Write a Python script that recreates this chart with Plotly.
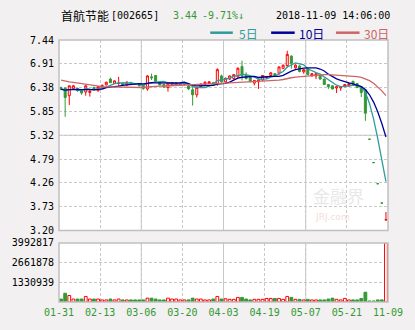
import plotly.graph_objects as go

# ---------------- data ----------------
dates = ["01-31", "02-01", "02-02", "02-05", "02-06", "02-07", "02-08", "02-09", "02-12", "02-13",
         "02-14", "02-22", "02-23", "02-26", "02-27", "02-28", "03-01", "03-02", "03-05", "03-06",
         "03-07", "03-08", "03-09", "03-12", "03-13", "03-14", "03-15", "03-16", "03-19", "03-20",
         "03-21", "03-22", "03-23", "03-26", "03-27", "03-28", "03-29", "03-30", "04-02", "04-03",
         "04-04", "04-09", "04-10", "04-11", "04-12", "04-13", "04-16", "04-17", "04-18", "04-19",
         "04-20", "04-23", "04-24", "04-25", "04-26", "04-27", "05-02", "05-03", "05-04", "05-07",
         "05-08", "05-09", "05-10", "05-11", "05-14", "05-15", "05-16", "05-17", "05-18", "05-21",
         "05-22", "05-23", "05-24", "05-25", "05-28", "11-05", "11-06", "11-07", "11-08", "11-09"]

open_ = [6.38, 6.37, 6.20, 6.36, 6.36, 6.33, 6.28, 6.27, 6.38, 6.31,
         6.36, 6.44, 6.57, 6.47, 6.47, 6.48, 6.44, 6.49, 6.47, 6.45,
         6.43, 6.35, 6.62, 6.65, 6.50, 6.45, 6.38, 6.44, 6.44, 6.44,
         6.45, 6.42, 6.33, 6.22, 6.40, 6.45, 6.47, 6.49, 6.47, 6.64,
         6.51, 6.57, 6.58, 6.62, 6.85, 6.65, 6.61, 6.48, 6.51, 6.55,
         6.60, 6.65, 6.69, 6.70, 6.81, 6.87, 7.08, 6.82, 6.86, 6.73,
         6.80, 6.64, 6.64, 6.66, 6.57, 6.45, 6.42, 6.37, 6.37, 6.40,
         6.42, 6.52, 6.47, 6.40, 6.33, 5.23, 4.71, 4.24, 3.81, 3.43]
high = [6.40, 6.38, 6.43, 6.44, 6.38, 6.34, 6.44, 6.33, 6.40, 6.41,
        6.45, 6.51, 6.60, 6.54, 6.62, 6.49, 6.52, 6.51, 6.48, 6.46,
        6.46, 6.66, 6.69, 6.66, 6.51, 6.47, 6.49, 6.50, 6.50, 6.49,
        6.49, 6.43, 6.40, 6.40, 6.47, 6.52, 6.52, 6.50, 6.81, 6.67,
        6.60, 6.65, 6.68, 6.83, 6.98, 6.72, 6.62, 6.55, 6.58, 6.66,
        6.64, 6.72, 6.70, 6.85, 6.89, 7.20, 7.10, 6.90, 6.88, 6.79,
        6.81, 6.70, 6.70, 6.67, 6.58, 6.46, 6.43, 6.41, 6.41, 6.46,
        6.48, 6.53, 6.48, 6.41, 6.34, 5.23, 4.71, 4.24, 3.81, 3.61]
low = [6.33, 5.73, 5.99, 6.34, 6.29, 6.22, 6.20, 6.18, 6.31, 6.29,
       6.35, 6.43, 6.48, 6.46, 6.42, 6.43, 6.41, 6.45, 6.44, 6.41,
       6.33, 6.31, 6.55, 6.50, 6.43, 6.38, 6.29, 6.43, 6.43, 6.42,
       6.43, 6.33, 5.98, 6.16, 6.39, 6.44, 6.46, 6.42, 6.42, 6.49,
       6.49, 6.55, 6.56, 6.60, 6.54, 6.56, 6.50, 6.43, 6.35, 6.52,
       6.57, 6.63, 6.62, 6.66, 6.79, 6.83, 6.80, 6.80, 6.72, 6.69,
       6.66, 6.63, 6.57, 6.56, 6.44, 6.35, 6.34, 6.26, 6.31, 6.39,
       6.41, 6.44, 6.37, 6.17, 5.64, 5.23, 4.71, 4.24, 3.81, 3.43]
close = [6.34, 6.16, 6.42, 6.42, 6.31, 6.26, 6.42, 6.30, 6.33, 6.40,
         6.43, 6.50, 6.49, 6.53, 6.48, 6.44, 6.50, 6.46, 6.45, 6.42,
         6.36, 6.64, 6.60, 6.52, 6.44, 6.39, 6.48, 6.49, 6.48, 6.48,
         6.47, 6.35, 6.22, 6.38, 6.46, 6.50, 6.51, 6.44, 6.78, 6.51,
         6.59, 6.64, 6.67, 6.81, 6.65, 6.58, 6.51, 6.54, 6.55, 6.65,
         6.62, 6.71, 6.64, 6.84, 6.88, 7.12, 6.92, 6.88, 6.74, 6.78,
         6.67, 6.69, 6.69, 6.57, 6.45, 6.40, 6.35, 6.40, 6.40, 6.45,
         6.47, 6.45, 6.38, 6.27, 5.81, 5.23, 4.71, 4.24, 3.81, 3.44]
volume = [200000, 590000, 440000, 200000, 200000, 200000, 375000, 200000, 200000, 200000,
          140000, 140000, 200000, 140000, 200000, 140000, 140000, 140000, 140000, 140000,
          140000, 260000, 260000, 200000, 140000, 140000, 260000, 200000, 200000, 140000,
          140000, 140000, 260000, 200000, 200000, 140000, 140000, 200000, 375000, 200000,
          220000, 180000, 180000, 310000, 310000, 200000, 140000, 180000, 180000, 180000,
          240000, 240000, 240000, 240000, 180000, 375000, 310000, 180000, 180000, 140000,
          180000, 140000, 140000, 140000, 140000, 200000, 260000, 180000, 140000, 240000,
          140000, 140000, 140000, 240000, 660000, 70000, 70000, 140000, 140000, 3992817]
# closes before the first visible day (only used for the moving averages)
prior_close = [6.85, 6.82, 6.80, 6.78, 6.79, 6.76, 6.75, 6.77, 6.74, 6.72,
               6.60, 6.56, 6.55, 6.52, 6.50, 6.51, 6.49, 6.48, 6.50, 6.47,
               6.33, 6.30, 6.32, 6.35, 6.31, 6.37, 6.36, 6.34, 6.38]

tick_labels = ["01-31", "02-13", "03-06", "03-20", "04-03", "04-19", "05-07", "05-21", "11-09"]
price_ticks = [3.20, 3.73, 4.26, 4.79, 5.32, 5.85, 6.38, 6.91, 7.44]
volume_ticks = [1330939, 2661878, 3992817]

title_name = "首航节能"
title_code = "[002665]"
last_price = "3.44"
last_change = "-9.71%↓"
timestamp = "2018-11-09 14:06:00"
ma_names = ["5日", "10日", "30日"]
ma_periods = [5, 10, 30]

# ---------------- styling ----------------
RED = "#ff0000"
GREEN = "#339933"
MA_COLORS = ["#2f9c9c", "#000099", "#cc6666"]
BG = "#f2f0f0"
GRID = "#c8c8c8"
BORDER = "#c0c0c0"
MONO = "DejaVu Sans Mono"
CJK = "Noto Sans CJK SC"

W, H = 415, 330
ML, MR, MT, MB = 55, 25, 40, 21
PW, PH = W - ML - MR, H - MT - MB


def px(x):
    return (x - ML) / PW


def py(y):
    return (H - MB - y) / PH


n = len(close)
xs = list(range(n))
all_close = prior_close + close
off = len(prior_close)


def moving_average(p):
    return [sum(all_close[off + i - p + 1: off + i + 1]) / p for i in range(n)]


fig = go.Figure()

fig.add_trace(go.Candlestick(
    x=xs, open=open_, high=high, low=low, close=close,
    increasing=dict(line=dict(color=RED, width=1), fillcolor="#ffffff"),
    decreasing=dict(line=dict(color=GREEN, width=1), fillcolor=GREEN),
    whiskerwidth=0, xaxis="x", yaxis="y", showlegend=False, hoverinfo="skip",
))

for p, c, name in zip(ma_periods, MA_COLORS, ma_names):
    fig.add_trace(go.Scatter(
        x=xs, y=moving_average(p), mode="lines", name=name,
        line=dict(color=c, width=1.3), xaxis="x", yaxis="y",
        showlegend=False, hoverinfo="skip",
    ))

rising = [c > o for o, c in zip(open_, close)]
fig.add_trace(go.Bar(
    x=xs, y=volume, width=0.68,
    marker=dict(color=["#ffffff" if r else GREEN for r in rising],
                line=dict(color=[RED if r else GREEN for r in rising], width=1)),
    xaxis="x", yaxis="y2", showlegend=False, hoverinfo="skip",
))

price_dom = [py(235.5), 1.0]
vol_dom = [0.0, py(248.3)]
grid_pos = [-0.5 + 10 * k for k in range(len(tick_labels))]

shapes = []
# solid grid lines
for gx in [19.5, 39.5, 59.5]:
    for yr in ["y domain", "y2 domain"]:
        shapes.append(dict(type="line", xref="x", yref=yr, x0=gx, x1=gx, y0=0, y1=1,
                           line=dict(color=GRID, width=1), layer="below"))
shapes.append(dict(type="line", xref="x domain", yref="y", x0=0, x1=1, y0=5.32, y1=5.32,
                   line=dict(color=GRID, width=1), layer="below"))
# panel borders
for yr in ["y domain", "y2 domain"]:
    shapes.append(dict(type="rect", xref="x domain", yref=yr, x0=0, x1=1, y0=0, y1=1,
                       line=dict(color=BORDER, width=1.5), layer="above"))
# legend lines
leg = [(209, 232, 236), (271, 295, 297), (337, 361, 364)]
for (x0, x1, tx), c in zip(leg, MA_COLORS):
    shapes.append(dict(type="line", xref="paper", yref="paper", x0=px(x0), x1=px(x1),
                       y0=py(32.5), y1=py(32.5), line=dict(color=c, width=2.5)))

ann = []


def text(x, y, s, color="#000000", size=10, family=MONO, anchor="left"):
    ann.append(dict(x=px(x), y=py(y), xref="paper", yref="paper", text=s, showarrow=False,
                    xanchor=anchor, yanchor="middle",
                    font=dict(color=color, size=size, family=family)))


text(55, 15, title_name, size=12, family=CJK)
text(106, 15, title_code, size=10)
text(169, 15, last_price, color=GREEN, size=10)
text(199, 15, last_change, color=GREEN, size=10)
text(274, 15, timestamp, size=10)
for (x0, x1, tx), c, name in zip(leg, MA_COLORS, ma_names):
    text(tx, 33, name, color=c, size=12, family=CJK)
# faint watermark
text(312, 200, "金融界", color="#e8e8e8", size=17, family=CJK)
text(314, 222, "JRJ.com", color="#f4dcdc", size=9, family="DejaVu Sans")

fig.update_layout(
    width=W, height=H,
    margin=dict(l=ML, r=MR, t=MT, b=MB, pad=0),
    paper_bgcolor=BG, plot_bgcolor="#ffffff",
    showlegend=False, boxgap=0.3,
    shapes=shapes, annotations=ann,
    xaxis=dict(domain=[0, 1], anchor="y2", range=[-0.5, 79.5],
               tickvals=grid_pos, ticktext=tick_labels,
               tickfont=dict(color=GREEN, size=10, family=MONO),
               showgrid=True, gridcolor=GRID, griddash="3px,2px", gridwidth=1,
               zeroline=False, showline=False, ticks="", ticklabelstandoff=3,
               rangeslider=dict(visible=False), fixedrange=True),
    yaxis=dict(domain=price_dom, anchor="x", range=[3.20, 7.44],
               tickvals=price_ticks, ticktext=["%.2f" % v for v in price_ticks],
               tickfont=dict(color="#000000", size=10, family=MONO),
               showgrid=True, gridcolor=GRID, griddash="3px,2px", gridwidth=1,
               zeroline=False, showline=False, ticks="", ticklabelstandoff=4,
               fixedrange=True),
    yaxis2=dict(domain=vol_dom, anchor="x", range=[0, 3992817],
                tickvals=volume_ticks, ticktext=[str(v) for v in volume_ticks],
                tickfont=dict(color="#000000", size=10, family=MONO),
                showgrid=True, gridcolor=GRID, griddash="3px,2px", gridwidth=1,
                zeroline=False, showline=False, ticks="", ticklabelstandoff=4,
                fixedrange=True),
)

fig.write_html("out.html", config={"displayModeBar": False})
